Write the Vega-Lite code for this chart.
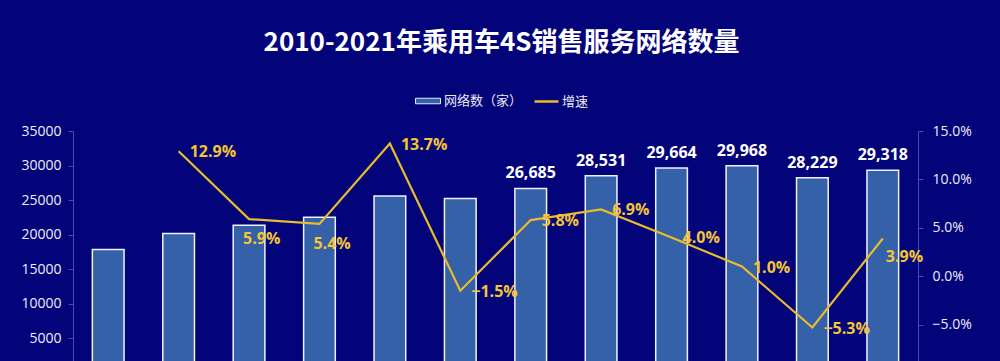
{
  "$schema": "https://vega.github.io/schema/vega-lite/v6.json",
  "width": 845,
  "height": 242,
  "autosize": {"type": "none"},
  "padding": {"left": 73, "top": 131, "right": 82, "bottom": 0},
  "background": "#03037A",
  "title": {"text": "2010-2021年乘用车4S销售服务网络数量", "color": "white", "fontSize": 26, "fontWeight": "bold", "font": "Noto Sans CJK SC", "anchor": "middle", "offset": 32, "dx": 6},
  "config": {"view": {"stroke": null}, "font": "Noto Sans CJK SC"},
  "data": {"values": [
    {"year": 2010, "count": 17871, "g": null},
    {"year": 2011, "count": 20177, "g": 0.129},
    {"year": 2012, "count": 21367, "g": 0.059},
    {"year": 2013, "count": 22521, "g": 0.054},
    {"year": 2014, "count": 25606, "g": 0.137},
    {"year": 2015, "count": 25222, "g": -0.015},
    {"year": 2016, "count": 26685, "g": 0.058},
    {"year": 2017, "count": 28531, "g": 0.069},
    {"year": 2018, "count": 29664, "g": 0.040},
    {"year": 2019, "count": 29968, "g": 0.010},
    {"year": 2020, "count": 28229, "g": -0.053},
    {"year": 2021, "count": 29318, "g": 0.039}
  ]},
  "encoding": {
    "x": {"field": "year", "type": "ordinal", "scale": {"paddingInner": 0.55, "paddingOuter": 0.275}, "axis": null}
  },
  "layer": [
    {"layer": [
      {"mark": {"type": "bar", "stroke": "#EEF2FF", "strokeWidth": 1.5},
       "encoding": {
         "y": {"field": "count", "type": "quantitative", "scale": {"domain": [0, 35000], "nice": false},
           "axis": {"title": null, "grid": false, "values": [5000, 10000, 15000, 20000, 25000, 30000, 35000], "format": "d", "labelOverlap": false,
             "labelColor": "#EEEEF6", "labelFontSize": 14, "labelFont": "Open Sans", "domainColor": "#3F4FB0", "tickColor": "#3F4FB0", "tickSize": 5, "labelPadding": 7}},
         "fill": {"datum": "网络数（家）", "scale": {"range": ["#3561A9"]},
           "legend": {"orient": "none", "legendX": 342, "legendY": -43, "title": null, "labelColor": "#E8E8F0", "labelFontSize": 13,
             "symbolType": "M-1,-0.22H1V0.22H-1Z", "symbolSize": 625, "symbolStrokeColor": "#E6ECFF", "symbolStrokeWidth": 1, "labelOffset": 3}}
       }},
      {"transform": [{"filter": "datum.year >= 2016"}],
       "mark": {"type": "text", "color": "white", "fontWeight": "bold", "fontSize": 16, "font": "Open Sans", "dy": -15, "baseline": "middle"},
       "encoding": {"y": {"field": "count", "type": "quantitative"}, "text": {"field": "count", "format": ","}}}
    ]},
    {"transform": [{"filter": "isValid(datum.g)"}],
     "layer": [
      {"mark": {"type": "line", "strokeWidth": 2.2},
       "encoding": {
         "y": {"field": "g", "type": "quantitative", "scale": {"domain": [-0.10, 0.15], "nice": false},
           "axis": {"orient": "right", "title": null, "grid": false, "values": [-0.05, 0, 0.05, 0.10, 0.15], "format": ".1%", "labelOverlap": false,
             "labelColor": "#EEEEF6", "labelFontSize": 14, "labelFont": "Open Sans", "domainColor": "#3F4FB0", "tickColor": "#3F4FB0", "tickSize": 5, "labelPadding": 9}},
         "stroke": {"datum": "增速", "scale": {"range": ["#E8BC2C"]},
           "legend": {"orient": "none", "legendX": 460, "legendY": -43, "title": null, "labelColor": "#E8E8F0", "labelFontSize": 13,
             "symbolType": "stroke", "symbolSize": 576, "symbolStrokeWidth": 2.5, "labelOffset": 2}}
       }},
      {"transform": [{"filter": "datum.year != 2012 && datum.year != 2013 && datum.year != 2021"}],
       "mark": {"type": "text", "color": "#F4C534", "fontWeight": "bold", "fontSize": 16, "font": "Open Sans", "align": "left", "baseline": "middle", "dx": 11, "dy": 1},
       "encoding": {"y": {"field": "g", "type": "quantitative"}, "text": {"field": "g", "format": ".1%"}}},
      {"transform": [{"filter": "datum.year == 2012 || datum.year == 2013"}],
       "mark": {"type": "text", "color": "#F4C534", "fontWeight": "bold", "fontSize": 16, "font": "Open Sans", "align": "left", "baseline": "middle", "dx": -6, "dy": 20},
       "encoding": {"y": {"field": "g", "type": "quantitative"}, "text": {"field": "g", "format": ".1%"}}},
      {"transform": [{"filter": "datum.year == 2021"}],
       "mark": {"type": "text", "color": "#F4C534", "fontWeight": "bold", "fontSize": 16, "font": "Open Sans", "align": "left", "baseline": "middle", "dx": 3, "dy": 19},
       "encoding": {"y": {"field": "g", "type": "quantitative"}, "text": {"field": "g", "format": ".1%"}}}
    ]}
  ],
  "resolve": {"scale": {"y": "independent"}}
}
